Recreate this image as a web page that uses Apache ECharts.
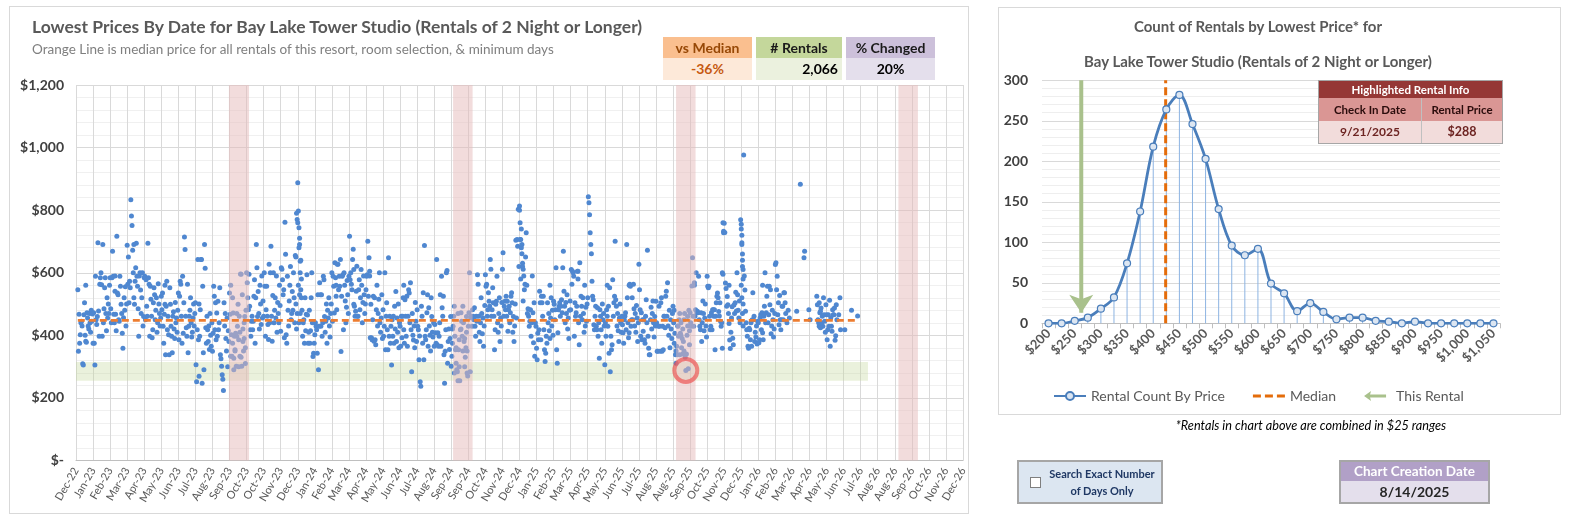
<!DOCTYPE html>
<html>
<head>
<meta charset="utf-8">
<title>Bay Lake Tower Studio</title>
<script src="https://cdn.jsdelivr.net/npm/echarts@6/dist/echarts.min.js"></script>
<style>
  body { margin: 0; background: #fff; font-family: Lato, 'Open Sans', sans-serif; }
  #wrap { position: relative; width: 1580px; height: 523px; overflow: hidden; }
  #chart { position: absolute; left: 0; top: 0; width: 1580px; height: 523px; }
  .frame { position: absolute; border: 1px solid #d9d9d9; box-sizing: border-box; }
  .txt { position: absolute; white-space: nowrap; }
  .cell { position: absolute; box-sizing: border-box; text-align: center; font-weight: bold; white-space: nowrap; }
</style>
</head>
<body>
<div id="wrap">
  <div class="frame" style="left:9px;top:6px;width:960px;height:508px"></div>
  <div class="frame" style="left:998px;top:7px;width:563px;height:408px"></div>
  <div id="chart"></div>

  <div class="txt" style="left:32px;top:16px;font-size:17.5px;font-weight:bold;color:#595959">Lowest Prices By Date for Bay Lake Tower Studio (Rentals of 2 Night or Longer)</div>
  <div class="txt" style="left:32px;top:41px;font-size:13.5px;color:#7f7f7f">Orange Line is median price for all rentals of this resort, room selection, &amp; minimum days</div>

  <div class="cell" style="left:663px;top:37px;width:89px;height:21px;line-height:21px;background:#fabf8f;color:#974806;font-size:14px">vs Median</div>
  <div class="cell" style="left:663px;top:58px;width:89px;height:22px;line-height:22px;background:#fde9d9;color:#c65911;font-size:14px">-36%</div>
  <div class="cell" style="left:756px;top:37px;width:86px;height:21px;line-height:21px;background:#c4d79b;color:#1a1a1a;font-size:14px"># Rentals</div>
  <div class="cell" style="left:756px;top:58px;width:86px;height:22px;line-height:22px;background:#ebf1de;color:#000;font-size:14px;text-align:right;padding-right:4px">2,066</div>
  <div class="cell" style="left:846px;top:37px;width:89px;height:21px;line-height:21px;background:#ccc0da;color:#1a1a1a;font-size:14px">% Changed</div>
  <div class="cell" style="left:846px;top:58px;width:89px;height:22px;line-height:22px;background:#e4dfec;color:#000;font-size:14px">20%</div>

  <div class="txt" style="left:1258px;top:17px;transform:translateX(-50%);font-size:15px;font-weight:bold;color:#595959">Count of Rentals by Lowest Price* for</div>
  <div class="txt" style="left:1258px;top:52px;transform:translateX(-50%);font-size:15px;font-weight:bold;color:#595959">Bay Lake Tower Studio (Rentals of 2 Night or Longer)</div>

  <div style="position:absolute;left:1318px;top:80px;width:185px;height:64px;border:1px solid #a6a6a6;box-sizing:border-box"></div>
  <div class="cell" style="left:1319px;top:81px;width:183px;height:17px;line-height:17px;background:#953735;color:#fff;font-size:11.5px">Highlighted Rental Info</div>
  <div class="cell" style="left:1319px;top:98px;width:103px;height:23px;line-height:23px;background:#da9694;color:#2b0c0c;font-size:11.5px;border-right:1px solid #c0c0c0">Check In Date</div>
  <div class="cell" style="left:1422px;top:98px;width:80px;height:23px;line-height:23px;background:#da9694;color:#2b0c0c;font-size:11.5px">Rental Price</div>
  <div class="cell" style="left:1319px;top:121px;width:103px;height:22px;line-height:22px;background:#f2dcdb;color:#6d2422;font-size:12px;border-right:1px solid #c0c0c0">9/21/2025</div>
  <div class="cell" style="left:1422px;top:121px;width:80px;height:22px;line-height:22px;background:#f2dcdb;color:#6d2422;font-size:12.5px">$288</div>

  <div class="txt" style="left:1311px;top:417px;transform:translateX(-50%);font-size:12.7px;font-style:italic;color:#000">*Rentals in chart above are combined in $25 ranges</div>

  <div style="position:absolute;left:1017px;top:460px;width:146px;height:44px;background:#dce6f1;border:2px solid #a6a6a6;box-sizing:border-box"></div>
  <div style="position:absolute;left:1030px;top:477px;width:11px;height:11px;background:#fff;border:1px solid #7f7f7f;box-sizing:border-box"></div>
  <div class="cell" style="left:1046px;top:465px;width:112px;font-size:11px;line-height:17px;color:#1f3864">Search Exact Number<br>of Days Only</div>

  <div style="position:absolute;left:1339px;top:460px;width:151px;height:44px;border:2px solid #a6a6a6;box-sizing:border-box;background:#e4dfec"></div>
  <div class="cell" style="left:1341px;top:462px;width:147px;height:19px;line-height:19px;background:#b1a0c7;color:#fff;font-size:13.5px">Chart Creation Date</div>
  <div class="cell" style="left:1341px;top:481px;width:147px;height:21px;line-height:21px;color:#262626;font-size:14px">8/14/2025</div>
</div>

<script>
// date axis: first tick Dec-22, one tick every 28 days
var axisStart = '2022-12-25'
var tickDays = 28
var axisEndDay = 1456
var monthNames = ['Jan', 'Feb', 'Mar', 'Apr', 'May', 'Jun', 'Jul', 'Aug', 'Sep', 'Oct', 'Nov', 'Dec']

// lowest price per check-in day, one row per 28 day tick interval
var start2023 = '2022-12-25'
var prices2023 = [
  null,null,null,546,349,467,375,402,440,445,430,309,305,466,504,400,381,378,472,455,430,420,470,440,410,480,445,468,
  375,472,375,305,589,450,435,460,696,478,397,563,584,600,562,397,690,440,485,552,584,470,415,520,455,500,470,560,
  584,485,440,584,669,589,467,440,541,467,415,717,535,530,450,445,589,557,499,470,407,359,456,520,480,555,430,500,
  688,563,650,504,573,552,833,781,751,672,600,520,499,573,616,694,589,557,485,397,590,600,545,470,520,600,430,460,
  584,589,450,578,493,461,694,584,563,397,557,515,461,392,418,504,552,530,450,480,520,410,440,565,500,470,430,455,
  525,482,535,429,375,467,499,338,493,573,418,461,402,338,552,499,429,397,344,461,475,420,390,505,440,455,410,480,
  535,386,525,573,563,461,375,589,407,504,714,674,461,424,397,563,344,429,461,480,520,440,395,410,455,500,430,470,
  504,306,252,418,642,386,269,397,482,642,642,247,557,344,290,690,614,424,375,461,418,380,430,355,470,400,365,440,
  349,407,557,525,418,504,386,471,397,509,418,440,552,338,325,301,274,260,224,504,430,470,390,350,455,300,415,380,
  535,467,333,402,333,375,471,327,397,354,407,301,397,429,499,386,461,333,596,595,301,530,420,350,390,460,310,480,
  600,568,520,482,595,493,418,397,445,461,418,445,525,578,375,520,690,616,460,540,470,420,560,500,435,590,455,510,
  461,600,557,397,482,557,461,435,387,627,440,600,685,461,381,527,600,440,480,520,455,590,410,505,470,440,560,495,
  413,616,611,578,530,546,392,761,659,402,375,589,480,430,510,560,620,450,470,540,480,600,520,440,655,500,420,470
]
var start2024 = '2023-12-24'
var prices2024 = [
  888,797,744,690,637,546,520,480,397,440,450,375,520,415,467,594,465,375,410,480,375,415,520,600,440,332,343,375,
  402,440,429,418,343,530,290,429,568,530,429,530,397,440,589,578,460,410,445,500,375,480,455,520,430,395,470,500,
  600,445,589,557,471,632,584,525,482,627,627,546,589,557,642,348,525,589,594,418,600,560,510,440,490,575,530,470,
  589,717,578,600,563,546,642,675,499,493,461,477,541,621,461,461,546,578,482,520,610,560,440,505,590,530,470,500,
  546,589,594,701,525,648,605,392,499,392,386,450,525,381,520,386,370,482,560,430,470,515,600,440,410,455,530,390,
  482,397,429,600,354,461,504,418,354,648,397,461,375,429,305,450,397,461,375,493,420,540,380,455,410,500,360,440,
  429,365,461,392,461,520,418,375,514,461,397,525,365,461,546,535,440,568,418,284,470,400,385,430,360,505,445,380,
  482,429,418,322,398,252,237,493,461,375,536,322,687,397,386,418,472,530,365,488,430,400,350,520,460,410,395,440,
  365,435,408,375,642,370,408,365,397,440,530,365,589,488,461,525,338,247,349,418,600,607,311,380,420,355,390,460,
  301,333,375,429,461,493,397,354,311,290,284,255,354,386,255,418,472,445,397,493,440,380,300,330,360,410,350,270,
  429,472,600,284,456,461,429,482,461,450,488,429,397,461,445,594,563,461,410,380,440,520,470,405,455,365,430,495,
  594,557,563,461,482,536,509,493,642,611,461,482,552,504,461,354,418,499,509,589,440,410,470,520,380,455,430,505,
  611,664,461,493,509,482,525,461,509,413,482,493,440,472,525,536,504,410,460,380,430,500,704,455,706,685,803,620
]
var start2025 = '2024-12-22'
var prices2025 = [
  813,706,706,680,661,630,611,590,546,563,650,728,560,470,485,461,429,445,482,397,440,590,472,376,504,333,440,429,
  359,322,407,386,418,541,504,386,525,504,461,525,418,354,316,343,397,375,504,440,470,415,390,455,520,430,480,400,
  509,499,450,482,616,354,311,408,482,493,504,461,493,514,472,616,669,541,493,440,505,470,530,420,455,390,480,510,
  482,610,563,605,600,589,397,504,461,472,493,605,605,440,370,632,461,525,493,450,520,470,410,560,430,490,445,500,
  520,843,824,785,728,690,661,573,525,514,434,418,461,493,429,418,488,397,440,327,482,461,418,375,500,450,470,430,
  306,440,397,482,461,429,493,343,552,284,397,354,370,578,461,504,525,701,514,493,430,470,415,380,455,500,440,410,
  461,434,408,375,450,461,472,418,690,520,440,392,408,563,557,429,450,520,450,563,485,430,470,410,495,455,380,440,
  627,546,482,397,472,386,450,413,450,386,375,461,514,440,672,397,359,338,338,450,490,420,470,510,440,395,460,430,
  509,440,349,349,429,493,429,349,504,520,349,429,354,461,461,424,525,541,461,568,430,400,480,360,450,420,390,470,
  493,440,375,407,338,311,365,338,429,397,450,338,407,440,360,390,420,380,350,470,330,288,340,400,460,293,480,415,
  472,440,429,558,648,461,429,568,461,482,600,472,477,472,589,450,429,418,472,380,440,510,470,415,455,500,430,395,
  589,557,552,557,461,418,429,472,418,482,482,461,482,354,461,504,525,535,520,476,462,504,445,429,440,359,595,728,
  758,729,567,550,493,524,498,470,438,385,358,410,455,491,391,370,497,470,504,538,478,600,530,480,455,510,440,769
]
var start2026 = '2025-12-21'
var prices2026 = [
  755,696,640,610,976,590,545,477,440,418,397,365,359,423,418,386,440,365,450,536,450,461,380,410,395,430,372,445,
  440,376,386,456,466,418,472,408,386,461,493,600,440,472,525,557,440,466,557,498,546,405,430,480,450,395,420,470,
  626,632,546,589,466,504,434,527,450,418,450,493,493,450,536,536,504,470,null,440,null,480,null,455,null,null,null,null,
  null,null,null,null,null,null,null,477,null,null,null,null,null,883,null,null,null,null,null,648,669,null,null,null,null,null,null,482,
  null,450,null,null,null,null,null,null,null,null,null,null,525,498,450,440,504,472,477,487,429,461,429,520,466,445,410,498,
  466,386,418,466,429,512,365,456,429,413,482,466,466,487,384,399,498,450,null,null,466,null,520,418,null,null,null,null,
  null,null,418,null,null,null,null,null,null,null,null,null,null,480,null,null,null,null,null,null,null,null,null,462,null,null,null,null
]

// second rentals on the same check-in day
var extraRentals = [
  ['2023-01-10', 560], ['2023-02-27', 590], ['2023-03-30', 690], ['2023-05-20', 560], ['2023-07-15', 500],
  ['2023-09-05', 560], ['2023-09-08', 520], ['2023-09-10', 290], ['2023-09-12', 350], ['2023-09-15', 470],
  ['2023-09-18', 300], ['2023-09-20', 410], ['2023-09-22', 330], ['2023-09-25', 380], ['2023-09-27', 440],
  ['2023-09-29', 360], ['2023-12-21', 650], ['2023-12-22', 790], ['2023-12-23', 770], ['2023-12-24', 760],
  ['2023-12-25', 560], ['2023-12-26', 680], ['2023-12-26', 440], ['2023-12-27', 710], ['2023-12-27', 530],
  ['2023-12-28', 600], ['2023-12-28', 470], ['2023-12-29', 640], ['2023-12-30', 580], ['2024-02-25', 560],
  ['2024-03-25', 610], ['2024-04-20', 590], ['2024-06-15', 560], ['2024-09-03', 420], ['2024-09-06', 280],
  ['2024-09-09', 360], ['2024-09-12', 470], ['2024-09-14', 300], ['2024-09-17', 420], ['2024-09-20', 350],
  ['2024-09-23', 390], ['2024-09-26', 460], ['2024-09-27', 280], ['2024-12-22', 800], ['2024-12-23', 760],
  ['2024-12-24', 580], ['2024-12-25', 740], ['2024-12-26', 690], ['2024-12-27', 620], ['2024-12-28', 510],
  ['2025-02-10', 560], ['2025-03-28', 580], ['2025-05-15', 560], ['2025-06-20', 560], ['2025-09-02', 480],
  ['2025-09-05', 350], ['2025-09-08', 430], ['2025-09-11', 470], ['2025-09-13', 400], ['2025-09-16', 340],
  ['2025-09-18', 450], ['2025-09-20', 340], ['2025-09-24', 430], ['2025-09-27', 370], ['2025-10-05', 560],
  ['2025-11-20', 600], ['2025-11-21', 760], ['2025-11-22', 733], ['2025-12-01', 560], ['2025-12-21', 740],
  ['2025-12-21', 560], ['2025-12-22', 720], ['2025-12-22', 690], ['2025-12-22', 520], ['2025-12-23', 660],
  ['2025-12-23', 620], ['2025-12-23', 470], ['2025-12-24', 580], ['2025-12-24', 500], ['2025-12-24', 430],
  ['2026-01-25', 560], ['2026-04-28', 429], ['2026-04-30', 424], ['2026-05-02', 440]
]

var medianPrice = 448
var medianFrom = '2022-12-28'
var medianTo = '2026-06-26'
var highlightDate = '2025-09-21'
var highlightPrice = 288
var matchBand = ['2022-12-25', '2026-07-17', 255, 315]
var shadedRanges = [
  ['2023-09-02', '2023-10-05'],
  ['2024-09-04', '2024-10-06'],
  ['2025-09-05', '2025-10-07'],
  ['2026-09-05', '2026-10-07']
]

// histogram ($25 ranges)
var priceBins = ['$200', '$225', '$250', '$275', '$300', '$325', '$350', '$375', '$400', '$425', '$450', '$475',
  '$500', '$525', '$550', '$575', '$600', '$625', '$650', '$675', '$700', '$725', '$750', '$775', '$800', '$825',
  '$850', '$875', '$900', '$925', '$950', '$975', '$1,000', '$1,025', '$1,050']
var rentalCounts = [0, 0, 3, 7, 18, 32, 74, 138, 218, 264, 282, 246, 203, 141, 96, 84, 92, 49, 37, 15, 25, 14, 5,
  7, 7, 3, 2, 0, 2, 0, 0, 0, 0, 0, 0]
var medianBinPos = 8.95
var thisRentalPos = 2.5

function dayOf(s) {
  var p = s.split('-')
  var a = axisStart.split('-')
  return (Date.UTC(+p[0], +p[1] - 1, +p[2]) - Date.UTC(+a[0], +a[1] - 1, +a[2])) / 86400000
}
function monthLabel(v) {
  var a = axisStart.split('-')
  var d = new Date(Date.UTC(+a[0], +a[1] - 1, +a[2]) + v * 86400000)
  return monthNames[d.getUTCMonth()] + '-' + String(d.getUTCFullYear()).slice(2)
}

var points = []
;[[start2023, prices2023], [start2024, prices2024], [start2025, prices2025], [start2026, prices2026]].forEach(function(b) {
  var d0 = dayOf(b[0])
  b[1].forEach(function(v, i) {
    if (v != null) points.push([d0 + i, v])
  })
})
extraRentals.forEach(function(r) {
  points.push([dayOf(r[0]), r[1]])
})

var bandData = shadedRanges.map(function(r) { return [dayOf(r[0]), dayOf(r[1]), 0, 1200] })
var greenData = [[dayOf(matchBand[0]), dayOf(matchBand[1]), matchBand[2], matchBand[3]]]

function rectItem(fill) {
  return function(params, api) {
    var p1 = api.coord([api.value(0), api.value(3)])
    var p2 = api.coord([api.value(1), api.value(2)])
    return {
      type: 'rect',
      shape: { x: p1[0], y: p1[1], width: p2[0] - p1[0], height: p2[1] - p1[1] },
      style: { fill: fill },
    }
  }
}

var greyText = '#595959'
var chart = echarts.init(document.getElementById('chart'))

var option = {
  animation: false,
  textStyle: { fontFamily: 'Lato, "Open Sans", sans-serif' },
  grid: [
    { left: 76, top: 85, width: 887, height: 375.5, outerBoundsMode: 'none' },
    { left: 1042, top: 80.3, width: 458, height: 243, outerBoundsMode: 'none' },
  ],
  xAxis: [
    {
      type: 'value', gridIndex: 0, min: 0, max: axisEndDay, interval: tickDays,
      axisLine: { show: true, lineStyle: { color: '#bfbfbf' } },
      axisTick: { show: false },
      axisLabel: { rotate: 60, fontSize: 11, color: greyText, margin: 8, formatter: monthLabel, showMinLabel: true, showMaxLabel: true },
      splitLine: { show: true, lineStyle: { color: '#d9d9d9' } },
    },
    {
      type: 'category', gridIndex: 1, data: priceBins, boundaryGap: true,
      axisLine: { lineStyle: { color: '#bfbfbf' } },
      axisTick: { show: true, interval: 0, length: 5, lineStyle: { color: '#bfbfbf' } },
      axisLabel: { interval: 1, rotate: 45, fontSize: 13, fontWeight: 'bold', color: greyText, margin: 8 },
      splitLine: { show: false },
    },
    { type: 'value', gridIndex: 1, min: -0.5, max: 34.5, show: false },
  ],
  yAxis: [
    {
      type: 'value', gridIndex: 0, min: 0, max: 1200, interval: 200,
      axisLine: { show: false }, axisTick: { show: false },
      axisLabel: {
        fontSize: 14, fontWeight: 'bold', color: '#404040', margin: 12,
        formatter: function(v) { return v === 0 ? '$-' : '$' + v.toLocaleString('en-US') },
      },
      splitLine: { lineStyle: { color: '#d9d9d9' } },
      minorTick: { show: false, splitNumber: 5 },
      minorSplitLine: { show: true, lineStyle: { color: '#f0f0f0' } },
    },
    {
      type: 'value', gridIndex: 1, min: 0, max: 300, interval: 50,
      axisLine: { show: false }, axisTick: { show: false },
      axisLabel: { fontSize: 14, fontWeight: 'bold', color: '#404040', margin: 14 },
      splitLine: { lineStyle: { color: '#d9d9d9' } },
      minorTick: { show: false, splitNumber: 5 },
      minorSplitLine: { show: true, lineStyle: { color: '#eeeeee' } },
    },
  ],
  legend: {
    left: 1048, top: 384, itemGap: 28, itemWidth: 32, itemHeight: 10,
    textStyle: { fontSize: 14, color: greyText },
    data: [
      { name: 'Rental Count By Price' },
      { name: 'Median', icon: 'path://M0,0 H8 V3 H0 Z M12,0 H20 V3 H12 Z M24,0 H32 V3 H24 Z' },
      { name: 'This Rental', icon: 'path://M0,5 L7,0 L6,3.6 L22,3.6 L22,6.4 L6,6.4 L7,10 Z' },
    ],
  },
  series: [
    {
      type: 'custom', name: 'match band', xAxisIndex: 0, yAxisIndex: 0, z: 1, silent: true,
      renderItem: rectItem('rgba(196,215,155,0.35)'), encode: { x: [0, 1], y: [2, 3] }, data: greenData,
    },
    {
      type: 'scatter', name: 'rentals', xAxisIndex: 0, yAxisIndex: 0, z: 2, silent: true,
      symbolSize: 5, itemStyle: { color: '#4f87d0', opacity: 1 }, data: points,
    },
    {
      type: 'custom', name: 'shaded', xAxisIndex: 0, yAxisIndex: 0, z: 3, silent: true,
      renderItem: rectItem('rgba(230,185,185,0.5)'), encode: { x: [0, 1], y: [2, 3] }, data: bandData,
    },
    {
      type: 'line', name: 'median price', xAxisIndex: 0, yAxisIndex: 0, z: 4, silent: true, symbol: 'none',
      lineStyle: { color: '#ed7d31', width: 2.8, type: [7, 4] },
      data: [[dayOf(medianFrom), medianPrice], [dayOf(medianTo), medianPrice]],
    },
    {
      type: 'scatter', name: 'highlight', xAxisIndex: 0, yAxisIndex: 0, z: 5, silent: true,
      symbol: 'circle', symbolSize: 23,
      itemStyle: { color: 'rgba(0,0,0,0)', borderColor: 'rgba(238,82,82,0.85)', borderWidth: 4 },
      data: [[dayOf(highlightDate), highlightPrice]],
    },
    {
      type: 'bar', name: 'drop lines', xAxisIndex: 1, yAxisIndex: 1, z: 1, silent: true,
      barWidth: 1, itemStyle: { color: '#8db4e2' }, data: rentalCounts,
    },
    {
      type: 'line', name: 'Median', xAxisIndex: 2, yAxisIndex: 1, z: 3, silent: true, symbol: 'none',
      itemStyle: { color: '#e46c0a' },
      lineStyle: { color: '#e46c0a', width: 3, type: [8, 4] },
      data: [[medianBinPos, 0], [medianBinPos, 300]],
    },
    {
      type: 'line', name: 'This Rental', xAxisIndex: 2, yAxisIndex: 1, z: 3, silent: true,
      itemStyle: { color: '#a9c18c' },
      lineStyle: { color: '#a9c18c', width: 4 },
      data: [
        { value: [thisRentalPos, 300], symbol: 'none' },
        { value: [thisRentalPos, 13], symbol: 'arrow', symbolSize: [18, 18], symbolRotate: 180 },
      ],
    },
    {
      type: 'line', name: 'Rental Count By Price', xAxisIndex: 1, yAxisIndex: 1, z: 4, silent: true,
      smooth: 0.35, symbol: 'circle', symbolSize: 7,
      lineStyle: { color: '#4a7ebb', width: 2.8 },
      itemStyle: { color: '#dce6f2', borderColor: '#4a7ebb', borderWidth: 1.2 },
      data: rentalCounts,
    },
  ],
}

chart.setOption(option)
</script>
</body>
</html>
